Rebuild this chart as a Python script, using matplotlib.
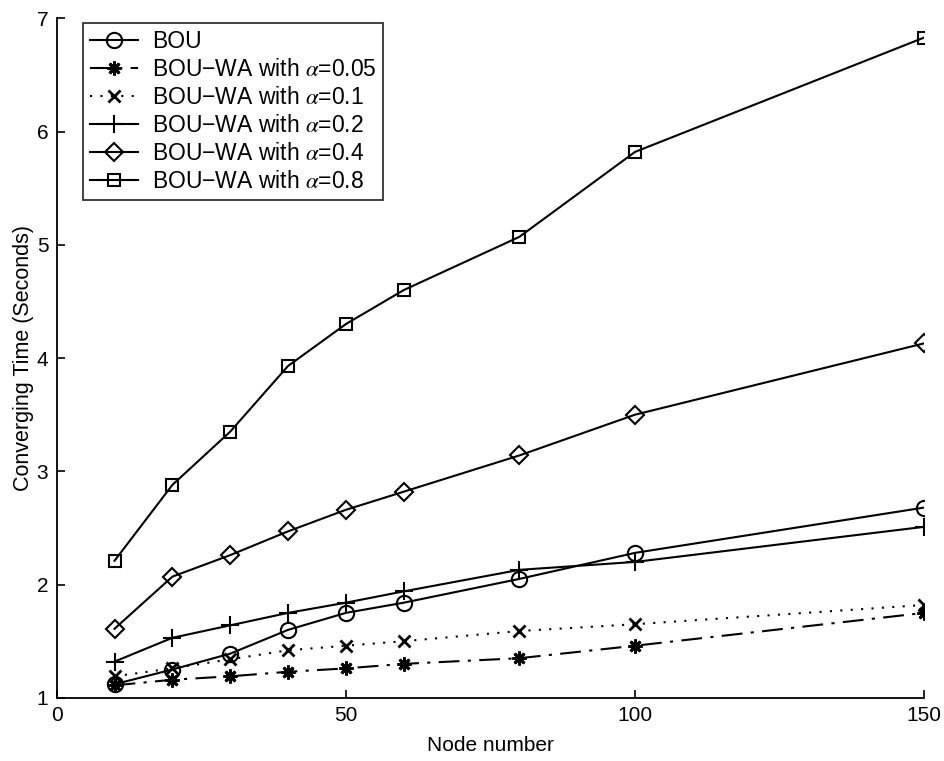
import numpy as np
import matplotlib
matplotlib.use("Agg")
from matplotlib import pyplot as plt

plt.rcParams['font.family'] = ['Liberation Sans', 'DejaVu Sans']
plt.rcParams['mathtext.fontset'] = 'stix'

############################ data ############################

nodes = [10, 20, 30, 40, 50, 60, 80, 100, 150]

bou      = [1.12, 1.25, 1.39, 1.60, 1.75, 1.84, 2.05, 2.28, 2.68]
wa_005   = [1.11, 1.16, 1.19, 1.23, 1.26, 1.30, 1.35, 1.46, 1.75]
wa_01    = [1.19, 1.26, 1.34, 1.42, 1.46, 1.50, 1.59, 1.65, 1.82]
wa_02    = [1.32, 1.53, 1.64, 1.75, 1.84, 1.94, 2.13, 2.20, 2.51]
wa_04    = [1.61, 2.07, 2.26, 2.47, 2.66, 2.82, 3.14, 3.50, 4.13]
wa_08    = [2.21, 2.88, 3.35, 3.93, 4.30, 4.60, 5.07, 5.82, 6.83]

labels = ["BOU",
          "BOU\u2212WA with $\\alpha$=0.05",
          "BOU\u2212WA with $\\alpha$=0.1",
          "BOU\u2212WA with $\\alpha$=0.2",
          "BOU\u2212WA with $\\alpha$=0.4",
          "BOU\u2212WA with $\\alpha$=0.8"]

x_ticks = [0, 50, 100, 150]
y_ticks = [1, 2, 3, 4, 5, 6, 7]

###################################################################################

fig = plt.figure(figsize=(9.45, 7.61), dpi=100)
ax = fig.add_axes([0.060, 0.083, 0.918, 0.893])

lw = 1.5
ax.plot(nodes, bou, color="black", lw=lw, marker="o", ms=11, mfc="none", mew=1.5, label=labels[0])
ax.plot(nodes, wa_005, color="black", lw=lw, ls=(0, (10, 4, 1.5, 4)), marker=(8, 2, 0), ms=10, mew=2, label=labels[1])
ax.plot(nodes, wa_01, color="black", lw=lw, ls=(0, (1, 4)), marker="x", ms=8, mew=2, label=labels[2])
ax.plot(nodes, wa_02, color="black", lw=lw, marker="+", ms=13, mew=1.5, label=labels[3])
ax.plot(nodes, wa_04, color="black", lw=lw, marker="D", ms=9, mfc="none", mew=1.5, label=labels[4])
ax.plot(nodes, wa_08, color="black", lw=lw, marker="s", ms=9, mfc="none", mew=1.5, label=labels[5])

ax.set_xlim(0, 150)
ax.set_ylim(1, 7)
ax.set_xticks(x_ticks)
ax.set_yticks(y_ticks)
ax.tick_params(direction="in", length=6, width=1.2, labelsize=15, pad=6)

ax.spines["top"].set_visible(False)
ax.spines["right"].set_visible(False)
ax.spines["left"].set_linewidth(1.3)
ax.spines["bottom"].set_linewidth(1.3)

ax.set_xlabel("Node number", fontsize=15, labelpad=8)
ax.set_ylabel("Converging Time (Seconds)", fontsize=15.5, labelpad=2)

leg = ax.legend(loc="upper left", bbox_to_anchor=(0.025, 1.0), fontsize=16.5,
                frameon=True, fancybox=False, edgecolor="black", handlelength=2.1,
                handletextpad=0.6, borderpad=0.3, labelspacing=0.22, borderaxespad=0.2)
leg.get_frame().set_linewidth(1.3)

plt.savefig("out.png", dpi=100)
